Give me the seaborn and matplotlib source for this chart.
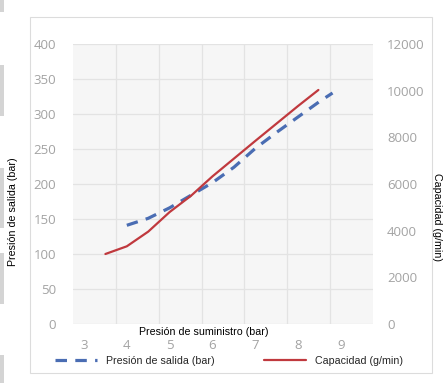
import matplotlib
matplotlib.use("Agg")
import matplotlib.pyplot as plt
from matplotlib.patches import Rectangle
from matplotlib.ticker import FixedLocator
import seaborn as sns
import pandas as pd

# Data
salida_x = [4.0, 4.5, 5.0, 5.5, 6.0, 6.5, 7.0, 7.5, 8.0, 8.5, 8.8]
salida_y = [141, 151, 166, 184, 202, 224, 251, 274, 296, 318, 330]
cap_x = [3.5, 4.0, 4.5, 5.0, 5.5, 6.0, 6.5, 7.0, 7.5, 8.0, 8.47]
cap_y = [3000, 3330, 3960, 4800, 5500, 6330, 7090, 7850, 8600, 9350, 10030]
x_ticks = [3, 4, 5, 6, 7, 8, 9]
left_ticks = [0, 50, 100, 150, 200, 250, 300, 350, 400]
right_ticks = [0, 2000, 4000, 6000, 8000, 10000, 12000]

label_salida = "Presión de salida (bar)"
label_cap = "Capacidad (g/min)"
label_x = "Presión de suministro (bar)"

df_s = pd.DataFrame({"x": salida_x, "y": salida_y})
df_c = pd.DataFrame({"x": cap_x, "y": cap_y})

sns.set_theme(style="white")
plt.rcParams["font.family"] = ["Liberation Sans", "DejaVu Sans"]

W, H = 446, 383
fig = plt.figure(figsize=(W / 100, H / 100), dpi=100)
fig.patch.set_facecolor("white")

def fx(px):
    return px / W

def fy(py):
    return 1 - py / H

ax = fig.add_axes([fx(73), fy(324), fx(373) - fx(73), fy(44) - fy(324)])
ax.set_facecolor("#f6f6f6")
ax2 = ax.twinx()

blue = "#4a6db3"
red = "#c0393e"

sns.lineplot(data=df_s, x="x", y="y", ax=ax, color=blue, lw=2.3,
             label=label_salida, legend=False)
ax.lines[-1].set_dashes((3.6, 2.6))
sns.lineplot(data=df_c, x="x", y="y", ax=ax2, color=red, lw=1.6,
             label=label_cap, legend=False)

ax.set_xlim(2.744, 9.744)
ax.set_ylim(0, 400)
ax2.set_ylim(0, 12000)

ax.set_xticks(x_ticks)
ax.xaxis.set_minor_locator(FixedLocator([3.744 + i for i in range(6)]))
ax.set_yticks(left_ticks)
ax2.set_yticks(right_ticks)

tick_color = "#a3a3a3"
tick_font = {"family": ["Open Sans", "DejaVu Sans"], "size": 9.5}
ax.set_xticklabels([str(v) for v in x_ticks], color=tick_color, **tick_font)
ax.set_yticklabels([str(v) for v in left_ticks], color=tick_color, **tick_font)
ax2.set_yticklabels([str(v) for v in right_ticks], color=tick_color, **tick_font)

ax.tick_params(axis="x", which="both", length=0, pad=11)
ax.tick_params(axis="y", length=0, pad=12)
ax2.tick_params(axis="y", length=0, pad=10)

ax.grid(False)
ax.grid(True, axis="y", which="major", color="#e3e3e3", lw=0.9)
ax.grid(True, axis="x", which="minor", color="#e3e3e3", lw=0.9)
ax.set_axisbelow(True)
for a in (ax, ax2):
    for s in a.spines.values():
        s.set_visible(False)

ax.set_xlabel("")
ax.set_ylabel("")
ax2.set_ylabel("")

fs = 7.7
fig.text(fx(204), fy(332), label_x, ha="center", va="center", fontsize=fs, color="black")
fig.text(fx(13), fy(212), label_salida, ha="center", va="center", rotation=90,
         fontsize=fs, color="black")
fig.text(fx(437), fy(217), label_cap, ha="center", va="center", rotation=-90,
         fontsize=fs, color="black")

# legend
h1 = ax.lines[0]
h2 = ax2.lines[0]
leg = fig.legend([h1, h2], [label_salida, label_cap], ncol=2, frameon=False,
                 loc="center left", bbox_to_anchor=(fx(55), fy(361)),
                 bbox_transform=fig.transFigure, fontsize=fs,
                 handlelength=3.9, handletextpad=0.9, columnspacing=4.6,
                 borderpad=0, borderaxespad=0)

# chart outer border
fig.patches.append(Rectangle((fx(30), fy(373)), fx(432) - fx(30), fy(17) - fy(373),
                             transform=fig.transFigure, fill=False,
                             edgecolor="#dcdcdc", lw=0.8))
# page artifacts on left edge
for y0, y1 in [(0, 12), (65, 116), (168, 228), (253, 304), (355, 383)]:
    fig.patches.append(Rectangle((0, fy(y1)), fx(4), fy(y0) - fy(y1),
                                 transform=fig.transFigure, facecolor="#d4d4d4",
                                 edgecolor="none"))

fig.savefig("out.png", dpi=100)
